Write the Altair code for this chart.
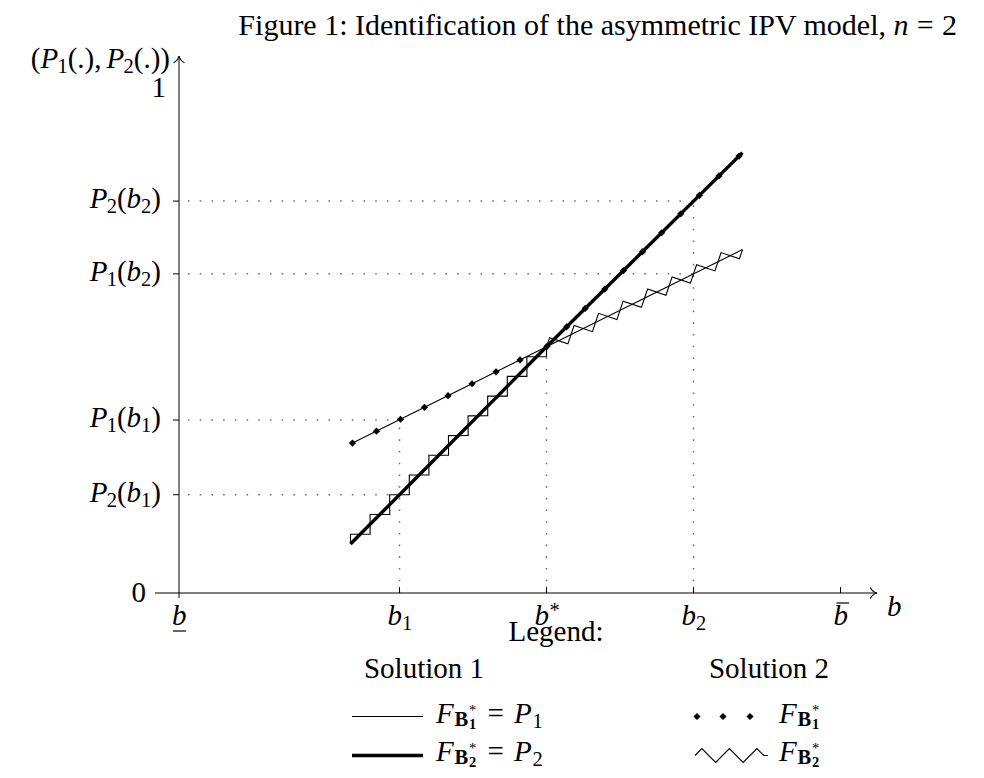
import math
import altair as alt
import numpy as np
import pandas as pd

# ---------------- values ----------------
tick_b = [0.0, 4.5, 7.5, 10.5, 13.5]            # b_low, b1, b*, b2, b_high
curve_b = [3.5, 7.5, 11.5]                       # support of the drawn curves
P1_vals = [0.295, 0.4875, 0.68]                  # P1(b)
P2_vals = [0.097, 0.4875, 0.872]                 # P2(b)
level_idx = [("2", "2"), ("1", "2"), ("1", "1"), ("2", "1")]   # P_i(b_j)
level_vals = [0.776, 0.632, 0.3425, 0.1946]
level_b = [10.5, 10.5, 4.5, 4.5]
bstar_val = 0.4875
# Solution 2, F_B1* (dotted): on P1 left of b*, on P2 right of b*
sol2_F1_left = [3.54, 4.03, 4.52, 5.01, 5.49, 5.98, 6.47, 6.96]
sol2_F1_right = [7.51, 7.91, 8.29, 8.69, 9.07, 9.46, 9.85, 10.24, 10.62, 11.02, 11.43]
# Solution 2, F_B2* (zigzag): on P2 left of b*, on P1 right of b*
sol2_F2_left = [3.7, 4.1, 4.5, 4.9, 5.3, 5.7, 6.1, 6.5, 6.9, 7.3]
sol2_F2_right = [7.75, 8.25, 8.75, 9.25, 9.75, 10.25, 10.75, 11.25]

# ---------------- layout ----------------
FONT = "Liberation Serif"
W_PLOT, H_PLOT = 686, 505
PAD = {"left": 171, "top": 80, "right": 111, "bottom": 177}
X_DOM, Y_DOM = [0, 14], [0, 1]
X0 = 8 + PAD["left"]                 # page x of b = 0
Y0 = 8 + PAD["top"] + H_PLOT         # page y of P = 0
KX = W_PLOT / (X_DOM[1] - X_DOM[0])
KY = H_PLOT / (Y_DOM[1] - Y_DOM[0])


def ux(px):
    return (px - X0) / KX


def uy(py):
    return (Y0 - py) / KY


xs = alt.Scale(domain=X_DOM, nice=False, zero=False)
ys = alt.Scale(domain=Y_DOM, nice=False, zero=False)


def XY(xf="x", yf="y"):
    return dict(x=alt.X(xf, type="quantitative", scale=xs, axis=None),
                y=alt.Y(yf, type="quantitative", scale=ys, axis=None))


layers = []


def rules(rows, **kw):
    df = pd.DataFrame(rows, columns=["x", "x2", "y", "y2"])
    layers.append(alt.Chart(df).mark_rule(**kw).encode(
        **XY(), x2=alt.X2("x2"), y2=alt.Y2("y2")))


LEG_R1_LINE, LEG_R1_BASE = 716.5, 723
LEG_R2_LINE, LEG_R2_BASE = 755.5, 761

# dotted guides
g = []
for lv, lb in zip(level_vals, level_b):
    g.append((ux(188), lb, lv, lv))
for bx, top in zip(tick_b[1:4], [level_vals[2], bstar_val, level_vals[0]]):
    g.append((bx, bx, 0.0, top))
rules(g, color="#707070", strokeWidth=1.5, strokeDash=[1.6, 10.1])

# axes
rules([(ux(155), ux(877), 0.0, 0.0), (0.0, 0.0, uy(598), uy(56))], color="black", strokeWidth=1)
# ticks
t = [(ux(173), 0.0, lv, lv) for lv in level_vals]
t += [(bx, bx, 0.0, uy(587)) for bx in tick_b[1:]]
rules(t, color="black", strokeWidth=1)
# under / over bars of b_low, b_high
rules([(ux(173), ux(186), uy(631), uy(631)), (ux(836.5), ux(849), uy(603), uy(603))],
      color="black", strokeWidth=1.2)
# legend line samples
rules([(ux(352), ux(423), uy(LEG_R1_LINE), uy(LEG_R1_LINE))], color="black", strokeWidth=1.1)
rules([(ux(352), ux(423), uy(LEG_R2_LINE), uy(LEG_R2_LINE))], color="black", strokeWidth=3.4)

# arrow heads
ARROW = "M -1 -0.8 C -0.7 -0.3 -0.3 -0.06 0 0 C -0.3 0.06 -0.7 0.3 -1 0.8"
arr = pd.DataFrame({"x": [ux(877), 0.0], "y": [0.0, uy(56)], "ang": [0, 270]})
layers.append(alt.Chart(arr).mark_point(shape=ARROW, filled=False, color="black",
                                        strokeWidth=1.1, size=190, opacity=1).encode(
    **XY(), angle=alt.Angle("ang:Q", scale=None)))

# curves
cdf = pd.DataFrame({"b": curve_b, "P1": P1_vals, "P2": P2_vals})
layers.append(alt.Chart(cdf).mark_line(color="black", strokeWidth=1.1).encode(**XY("b", "P1")))
layers.append(alt.Chart(cdf).mark_line(color="black", strokeWidth=3.4).encode(**XY("b", "P2")))

# Solution 2 F_B1*: dots
dx = sol2_F1_left + sol2_F1_right
dy = list(np.interp(sol2_F1_left, curve_b, P1_vals)) + list(np.interp(sol2_F1_right, curve_b, P2_vals))
dx += [ux(697), ux(723), ux(750)]
dy += [uy(LEG_R1_LINE)] * 3
ddf = pd.DataFrame({"x": dx, "y": dy})
layers.append(alt.Chart(ddf).mark_point(shape="diamond", filled=True, color="black",
                                        size=52, opacity=1).encode(**XY()))

# Solution 2 F_B2*: zigzag, one period per symbol
ZIG = "M -1 0 L -0.5 -0.5 L 0.5 0.5 L 1 0"
zx, zy, za, zs = [], [], [], []
for bl, vals, seg in [(sol2_F2_left, P2_vals, 0), (sol2_F2_right, P1_vals, 1)]:
    slope = (vals[seg + 1] - vals[seg]) * KY / ((curve_b[seg + 1] - curve_b[seg]) * KX)
    ang = math.degrees(math.atan(slope))
    step_px = (bl[1] - bl[0]) * KX / math.cos(math.radians(ang))
    for b in bl:
        zx.append(b)
        zy.append(float(np.interp(b, curve_b, vals)))
        za.append(360 - ang)
        zs.append(step_px ** 2)
zdf = pd.DataFrame({"x": zx, "y": zy, "ang": za, "sz": zs})
layers.append(alt.Chart(zdf).mark_point(shape=ZIG, filled=False, color="black",
                                        strokeWidth=1.1, opacity=1).encode(
    **XY(), angle=alt.Angle("ang:Q", scale=None), size=alt.Size("sz:Q", scale=None)))

# legend zigzag sample (2.5 periods + short tail)
q, a, L = 27.5 / 4, 6.9, 73.0
pts = [(0, 0), (q, -a), (3 * q, a), (5 * q, -a), (7 * q, a), (9 * q, -a), (10 * q, 0), (L, 0)]
h = L / 2
LEGZ = "M " + " L ".join(f"{(px - h) / h:.4f} {py / h:.4f}" for px, py in pts)
lz = pd.DataFrame({"x": [ux(695 + h)], "y": [uy(LEG_R2_LINE)]})
layers.append(alt.Chart(lz).mark_point(shape=LEGZ, filled=False, color="black",
                                       strokeWidth=1.1, size=L * L, opacity=1).encode(**XY()))

# ---------------- text ----------------
WID = {
    "reg": {"(": 333, ")": 333, ".": 250, ",": 250, "=": 564, "*": 500, ":": 278},
    "it": {"P": 611, "b": 500, "F": 611, "n": 500},
    "bold": {"B": 667},
}


def wid(txt, style, fs):
    return sum(WID.get(style, {}).get(c, 500) for c in txt) * fs / 1000.0


texts = {k: [] for k in ["reg", "it", "bold", "regc", "regr"]}


def put(style, px, py, txt, fs):
    texts[style].append({"x": ux(px), "y": uy(py), "t": txt, "fs": fs})


def pw(pieces):
    tot = 0
    for txt, st, fs, rise, adv in pieces:
        tot += adv if adv is not None else wid(txt, st, fs)
    return tot


def math_text(pieces, x, base):
    for txt, st, fs, rise, adv in pieces:
        if txt:
            put(st, x, base + rise, txt, fs)
        x += adv if adv is not None else wid(txt, st, fs)
    return x


BIG, SUB, SS, TT = 29, 20.5, 14.5, 30

# title ("n" in math italic); right end as in the reference layout
title_end, title_base = 957, 35
xn = title_end - 15 - 8.3 - 16.9 - 8.3 - 15
put("regr", xn - 7.5, title_base, "Figure 1: Identification of the asymmetric IPV model,", TT)
math_text([("n", "it", TT, 0, 15 + 8.3), ("=", "reg", TT, 0, 16.9 + 8.3), ("2", "reg", TT, 0, None)],
          xn, title_base)

# y axis label (P1(.), P2(.))
ylab = [("(", "reg", BIG, 0, None), ("P", "it", BIG, 0, 17), ("1", "reg", SUB, 5, None),
        ("(.),", "reg", BIG, 0, wid("(.),", "reg", BIG) + 5),
        ("P", "it", BIG, 0, 17), ("2", "reg", SUB, 5, None), ("(.))", "reg", BIG, 0, None)]
math_text(ylab, 170 - pw(ylab), 68)
put("regr", 166, 97, "1", BIG)
put("regr", 146, 602, "0", BIG)

# level labels P_i(b_j)
for (i, j), lv in zip(level_idx, level_vals):
    pcs = [("P", "it", BIG, 0, 17), (i, "reg", SUB, 5, None), ("(", "reg", BIG, 0, None),
           ("b", "it", BIG, 0, None), (j, "reg", SUB, 5, None), (")", "reg", BIG, 0, None)]
    math_text(pcs, 161 - pw(pcs), Y0 - lv * KY + 7)

# b tick labels
XB = [X0 + v * KX for v in tick_b]
tick_base = 625
put("it", XB[0] - 7, tick_base, "b", BIG)
math_text([("b", "it", BIG, 0, None), ("1", "reg", SUB, 5, None)], XB[1] - 12, tick_base)
math_text([("b", "it", BIG, 0, 15), ("*", "reg", SUB, -8, None)], XB[2] - 12, tick_base)
math_text([("b", "it", BIG, 0, None), ("2", "reg", SUB, 5, None)], XB[3] - 12, tick_base)
put("it", XB[4] - 7, tick_base, "b", BIG)
put("it", 887, 616, "b", BIG)

# legend
put("regc", 556, 641, "Legend:", BIG)
put("regc", 424, 678, "Solution 1", BIG)
put("regc", 769, 678, "Solution 2", BIG)


def F_pieces(k, eq):
    pcs = [("F", "it", BIG, 0, 18.5), ("B", "bold", SUB, 3, 14.5), ("*", "reg", SS, -8, 0),
           (k, "bold", SS, 6, 8.5)]
    if eq:
        pcs += [("", "reg", BIG, 0, 10), ("=", "reg", BIG, 0, 16.4 + 10),
                ("P", "it", BIG, 0, 18.5), (k, "reg", SUB, 5, None)]
    return pcs


math_text(F_pieces("1", True), 436, LEG_R1_BASE)
math_text(F_pieces("2", True), 436, LEG_R2_BASE)
math_text(F_pieces("1", False), 779, LEG_R1_BASE)
math_text(F_pieces("2", False), 779, LEG_R2_BASE)

TXT_STYLE = {
    "reg": dict(align="left"),
    "regc": dict(align="center"),
    "regr": dict(align="right"),
    "it": dict(align="left", fontStyle="italic"),
    "bold": dict(align="left", fontWeight="bold"),
}
for k, rows in texts.items():
    if not rows:
        continue
    df = pd.DataFrame(rows)
    layers.append(alt.Chart(df).mark_text(baseline="alphabetic", font=FONT, color="black",
                                          **TXT_STYLE[k]).encode(
        **XY(), text="t:N", size=alt.Size("fs:Q", scale=None)))

chart = alt.layer(*layers).properties(
    width=W_PLOT, height=H_PLOT, padding=PAD,
    autosize=alt.AutoSizeParams(type="none"),
).configure_view(stroke=None)

chart.save("out.html", embed_options={"renderer": "svg", "actions": False})
